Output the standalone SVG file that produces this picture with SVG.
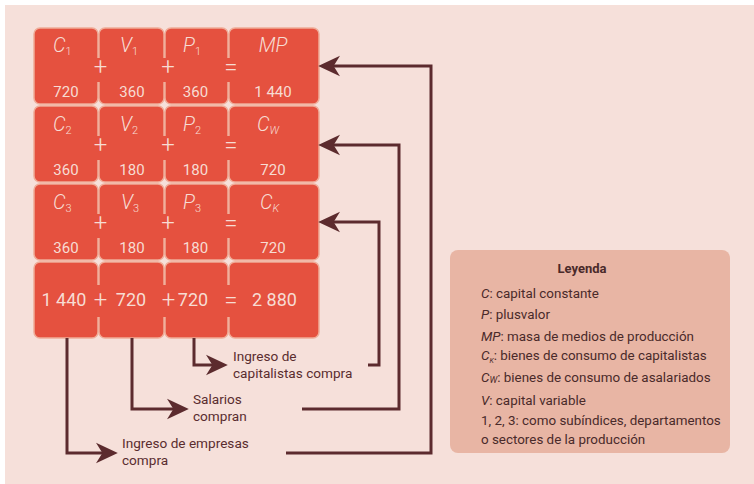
<svg xmlns="http://www.w3.org/2000/svg" width="754" height="484" viewBox="0 0 754 484">
  <style>
    .cell { fill: #e5513f; stroke: #efac98; stroke-width: 1.5; }
    .patch { fill: #e5513f; }
    .var { font-family: Roboto, "Liberation Sans", sans-serif; font-style: italic; font-weight: 300; font-size: 20px; fill: #f7dcd3; }
    .sub { font-size: 11px; font-style: normal; }
    .subi { font-size: 11px; font-style: italic; }
    .num { font-family: Roboto, "Liberation Sans", sans-serif; font-size: 15px; fill: #f7dcd3; text-anchor: middle; }
    .big { font-family: Roboto, "Liberation Sans", sans-serif; font-size: 18px; fill: #f7dcd3; text-anchor: middle; }
    .op { font-family: Roboto, "Liberation Sans", sans-serif; font-weight: 300; font-size: 24px; fill: #f7dcd3; text-anchor: middle; }
    .wire { fill: none; stroke: #5c2b2e; stroke-width: 3; marker-end: url(#head); }
    .lbl { font-family: Roboto, "Liberation Sans", sans-serif; font-size: 13.6px; fill: #5a2d2f; }
    .leg { font-family: Roboto, "Liberation Sans", sans-serif; font-size: 13.4px; fill: #4a2a2a; }
    .legt { font-family: Roboto, "Liberation Sans", sans-serif; font-size: 13px; font-weight: bold; fill: #4a2a2a; text-anchor: middle; }
    .it { font-style: italic; }
  </style>
  <defs>
    <marker id="head" markerUnits="userSpaceOnUse" markerWidth="22" markerHeight="22" viewBox="0 0 20 20" refX="12" refY="10" orient="auto">
      <path d="M20,10 L0,0.5 L6,10 L0,19.5 Z" fill="#5c2b2e"/>
    </marker>
  </defs>

  <!-- page background -->
  <rect x="5" y="5" width="749" height="479" fill="#f6e0da"/>

  <!-- row 1: C1 + V1 + P1 = MP -->
  <g id="row1">
    <rect class="cell" x="34" y="28" width="64" height="76" rx="6"/>
    <rect class="cell" x="99" y="28" width="65" height="76" rx="6"/>
    <rect class="cell" x="165" y="28" width="63" height="76" rx="6"/>
    <rect class="cell" x="229" y="28" width="90" height="76" rx="6"/>
    <rect class="patch" x="94" y="58" width="9" height="24"/>
    <rect class="patch" x="160" y="58" width="9" height="24"/>
    <rect class="patch" x="224" y="58" width="9" height="24"/>
    <text class="var" x="53" y="52">C<tspan class="sub" dy="3">1</tspan></text>
    <text class="var" x="120" y="52">V<tspan class="sub" dy="3">1</tspan></text>
    <text class="var" x="183" y="52">P<tspan class="sub" dy="3">1</tspan></text>
    <text class="var" x="273" y="52" text-anchor="middle">MP</text>
    <text class="op" x="100.5" y="75">+</text>
    <text class="op" x="168" y="75">+</text>
    <text class="op" x="231" y="75">=</text>
    <text class="num" x="66" y="97">720</text>
    <text class="num" x="132" y="97">360</text>
    <text class="num" x="195.5" y="97">360</text>
    <text class="num" x="273" y="97">1 440</text>
  </g>

  <!-- row 2: C2 + V2 + P2 = Cw -->
  <g id="row2">
    <rect class="cell" x="34" y="106" width="64" height="76" rx="6"/>
    <rect class="cell" x="99" y="106" width="65" height="76" rx="6"/>
    <rect class="cell" x="165" y="106" width="63" height="76" rx="6"/>
    <rect class="cell" x="229" y="106" width="90" height="76" rx="6"/>
    <rect class="patch" x="94" y="136" width="9" height="24"/>
    <rect class="patch" x="160" y="136" width="9" height="24"/>
    <rect class="patch" x="224" y="136" width="9" height="24"/>
    <text class="var" x="53" y="131">C<tspan class="sub" dy="3">2</tspan></text>
    <text class="var" x="120" y="131">V<tspan class="sub" dy="3">2</tspan></text>
    <text class="var" x="183" y="131">P<tspan class="sub" dy="3">2</tspan></text>
    <text class="var" x="257" y="131">C<tspan class="subi" dy="3">W</tspan></text>
    <text class="op" x="100.5" y="153">+</text>
    <text class="op" x="168" y="153">+</text>
    <text class="op" x="231" y="153">=</text>
    <text class="num" x="66" y="175">360</text>
    <text class="num" x="132" y="175">180</text>
    <text class="num" x="195.5" y="175">180</text>
    <text class="num" x="273" y="175">720</text>
  </g>

  <!-- row 3: C3 + V3 + P3 = Ck -->
  <g id="row3">
    <rect class="cell" x="34" y="184" width="64" height="76" rx="6"/>
    <rect class="cell" x="99" y="184" width="65" height="76" rx="6"/>
    <rect class="cell" x="165" y="184" width="63" height="76" rx="6"/>
    <rect class="cell" x="229" y="184" width="90" height="76" rx="6"/>
    <rect class="patch" x="94" y="214" width="9" height="24"/>
    <rect class="patch" x="160" y="214" width="9" height="24"/>
    <rect class="patch" x="224" y="214" width="9" height="24"/>
    <text class="var" x="53" y="209">C<tspan class="sub" dy="3">3</tspan></text>
    <text class="var" x="121" y="209">V<tspan class="sub" dy="3">3</tspan></text>
    <text class="var" x="183" y="209">P<tspan class="sub" dy="3">3</tspan></text>
    <text class="var" x="260" y="209">C<tspan class="subi" dy="3">K</tspan></text>
    <text class="op" x="100.5" y="231">+</text>
    <text class="op" x="168" y="231">+</text>
    <text class="op" x="231" y="231">=</text>
    <text class="num" x="66" y="253">360</text>
    <text class="num" x="132" y="253">180</text>
    <text class="num" x="195.5" y="253">180</text>
    <text class="num" x="273" y="253">720</text>
  </g>

  <!-- row 4: totals -->
  <g id="totals">
    <rect class="cell" x="34" y="262" width="64" height="76" rx="6"/>
    <rect class="cell" x="99" y="262" width="65" height="76" rx="6"/>
    <rect class="cell" x="165" y="262" width="63" height="76" rx="6"/>
    <rect class="cell" x="229" y="262" width="90" height="76" rx="6"/>
    <rect class="patch" x="94" y="285" width="9" height="32"/>
    <rect class="patch" x="160" y="285" width="9" height="32"/>
    <rect class="patch" x="224" y="285" width="9" height="32"/>
    <text class="big" x="64" y="306">1 440</text>
    <text class="op" x="100.5" y="308">+</text>
    <text class="big" x="131" y="306">720</text>
    <text class="op" x="168.5" y="308">+</text>
    <text class="big" x="193" y="306">720</text>
    <text class="op" x="231" y="308">=</text>
    <text class="big" x="274.5" y="306">2 880</text>
  </g>

  <!-- flows back into the departments -->
  <g id="connectors">
    <path class="wire" d="M67,338 V453 H109"/>
    <path class="wire" d="M286,453 H431 V66 H327"/>
    <path class="wire" d="M132,338 V409 H180"/>
    <path class="wire" d="M302,409 H399 V145 H327"/>
    <path class="wire" d="M194,338 V365 H219"/>
    <path class="wire" d="M368,365 H379 V222 H327"/>
  </g>

  <g id="label-empresas">
    <text class="lbl" x="122" y="448">Ingreso de empresas</text>
    <text class="lbl" x="122" y="465">compra</text>
  </g>
  <g id="label-salarios">
    <text class="lbl" x="193" y="404">Salarios</text>
    <text class="lbl" x="193" y="421">compran</text>
  </g>
  <g id="label-capitalistas">
    <text class="lbl" x="233" y="361">Ingreso de</text>
    <text class="lbl" x="233" y="378">capitalistas compra</text>
  </g>

  <!-- legend -->
  <g id="legend">
    <rect x="450" y="250" width="280" height="203" rx="8" fill="#e8b5a4"/>
    <text class="legt" x="582" y="273">Leyenda</text>
    <text class="leg" x="481" y="298"><tspan class="it">C</tspan>: capital constante</text>
    <text class="leg" x="481" y="319"><tspan class="it">P</tspan>: plusvalor</text>
    <text class="leg" x="481" y="341"><tspan class="it">MP</tspan>: masa de medios de producción</text>
    <text class="leg" x="481" y="360"><tspan class="it">C</tspan><tspan class="it" font-size="7" dy="3">K</tspan><tspan dy="-3">: bienes de consumo de capitalistas</tspan></text>
    <text class="leg" x="481" y="382"><tspan class="it">C</tspan><tspan class="it" font-size="9" dy="1">W</tspan><tspan dy="-1">: bienes de consumo de asalariados</tspan></text>
    <text class="leg" x="481" y="405"><tspan class="it">V</tspan>: capital variable</text>
    <text class="leg" x="481" y="425">1, 2, 3: como subíndices, departamentos</text>
    <text class="leg" x="481" y="444">o sectores de la producción</text>
  </g>
</svg>
